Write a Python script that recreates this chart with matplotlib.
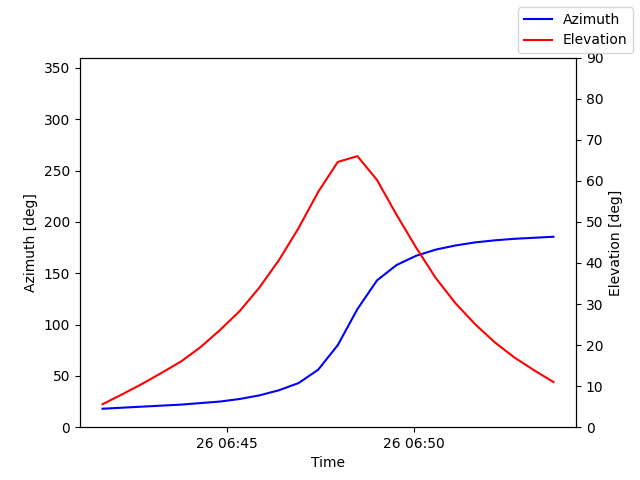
import matplotlib
matplotlib.use("Agg")
import matplotlib.pyplot as plt
import matplotlib.dates as mdates
import numpy as np
import datetime as dt

start = dt.datetime(2024, 1, 26, 6, 41, 40)
step_s = 31.5
azimuth = [18, 19, 20, 21, 22, 23.5, 25, 27.5, 31, 36, 43, 56, 80, 115, 143, 158,
           167, 173, 177, 180, 182, 183.5, 184.5, 185.5]
elevation = [5.6, 8, 10.5, 13.2, 16, 19.5, 23.7, 28.3, 34, 40.7, 48.5, 57.3, 64.6, 66,
             60.2, 51.7, 43.7, 36.3, 30.2, 25.1, 20.7, 17, 13.9, 11]
times = [start + dt.timedelta(seconds=i * step_s) for i in range(len(azimuth))]

fig, ax = plt.subplots(figsize=(6.4, 4.8), dpi=100)
l1, = ax.plot(times, azimuth, color="blue", label="Azimuth")
ax.set_ylim(0, 360)
ax.set_ylabel("Azimuth [deg]")
ax.set_xlabel("Time")
ax2 = ax.twinx()
l2, = ax2.plot(times, elevation, color="red", label="Elevation")
ax2.set_ylim(0, 90)
ax2.set_ylabel("Elevation [deg]")
ax.xaxis.set_major_locator(mdates.MinuteLocator(byminute=[45, 50]))
ax.xaxis.set_major_formatter(mdates.DateFormatter("%d %H:%M"))
fig.legend(handles=[l1, l2], loc="upper right")
fig.savefig("out.png")
